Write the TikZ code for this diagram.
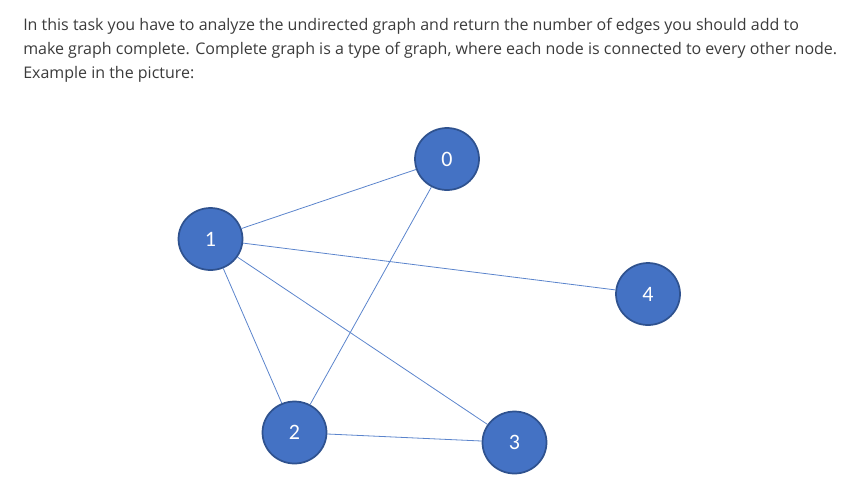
\documentclass[tikz,border=0pt]{standalone}
\usepackage{fontspec}
\setmainfont{Open Sans}
\newfontfamily\lblfont{Carlito}
\usetikzlibrary{shapes.geometric}
\definecolor{txt}{HTML}{3B3B3B}
\definecolor{nodefill}{HTML}{4472C4}
\definecolor{nodeline}{HTML}{2F528F}
\definecolor{edgecol}{HTML}{5B84CC}
\tikzset{
  gnode/.style={ellipse, draw=nodeline, fill=nodefill, line width=1.3pt,
    minimum width=48pt, minimum height=46.5pt, inner sep=0pt,
    text=white, font=\lblfont\fontsize{16.5pt}{18pt}\selectfont},
  gedge/.style={draw=edgecol, line width=0.6pt},
  para/.style={anchor=base west, inner sep=0pt, text=txt,
    font=\fontsize{12pt}{18pt}\selectfont}
}
\begin{document}
\begin{tikzpicture}[x=0.75pt,y=-0.75pt]
\useasboundingbox (0,0) rectangle (860,501);
\node[para] (l1) at (23,30) {In this task you have to analyze the undirected graph and return the number of edges you should add to};
\node[para] (l2) at (23,54) {make graph complete. Complete graph is a type of graph, where each node is connected to every other node.};
\node[para] (l3) at (23,78) {Example in the picture:};
\node[gnode] (n0) at (447,159) {0};
\node[gnode] (n1) at (210.5,239) {1};
\node[gnode] (n4) at (648,294) {4};
\node[gnode] (n2) at (294.5,432.5) {2};
\node[gnode] (n3) at (514.5,442.5) {3};
\path[gedge] (n1) -- (n0);
\path[gedge] (n1) -- (n4);
\path[gedge] (n1) -- (n3);
\path[gedge] (n1) -- (n2);
\path[gedge] (n0) -- (n2);
\path[gedge] (n2) -- (n3);
\end{tikzpicture}
\end{document}
